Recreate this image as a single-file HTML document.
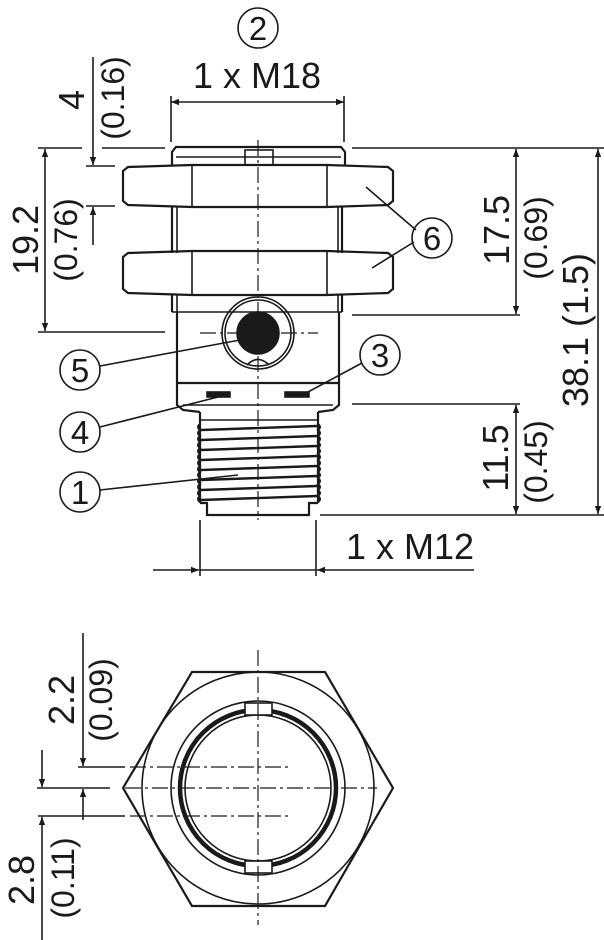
<!DOCTYPE html>
<html><head><meta charset="utf-8"><style>
html,body{margin:0;padding:0;background:#fff}
svg{display:block}
text{font-family:"Liberation Sans",sans-serif;fill:#1a1a1a}
</style></head><body>
<svg width="604" height="940" viewBox="0 0 604 940" xmlns="http://www.w3.org/2000/svg">
<defs>
<marker id="a" viewBox="0 0 10 10" refX="10" refY="5" markerWidth="14" markerHeight="8" markerUnits="userSpaceOnUse" orient="auto"><path d="M0,1 L10,5 L0,9 z" fill="#1a1a1a"/></marker>
</defs>
<g stroke="#1a1a1a" fill="none" stroke-width="1.6">
<line x1="38" y1="148" x2="82" y2="148"/><line x1="102" y1="148" x2="165" y2="148"/>
<line x1="352" y1="148" x2="604" y2="148"/>
<line x1="171" y1="96" x2="171" y2="142"/><line x1="344" y1="96" x2="344" y2="142"/>
<line x1="240" y1="102" x2="344" y2="102" marker-end="url(#a)"/>
<line x1="240" y1="102" x2="171" y2="102" marker-end="url(#a)"/>
<path d="M172,165 L172,152 L176,147 L341,147 L345,152 L345,165" stroke-width="2.2"/>
<line x1="176" y1="157" x2="341" y2="157"/>
<rect x="245" y="150" width="28" height="15"/>
<path d="M123,171 L128,167 L192,165 L327,165 L388,167 L393,171 L393,201 L388,205 L327,207 L192,207 L128,205 L123,201 Z" stroke-width="2.2"/>
<line x1="192" y1="165" x2="192" y2="207"/><line x1="327" y1="165" x2="327" y2="207"/>
<line x1="172" y1="207" x2="172" y2="253" stroke-width="2.2"/><line x1="177" y1="207" x2="177" y2="253"/>
<line x1="342" y1="207" x2="342" y2="253" stroke-width="2.2"/><line x1="338" y1="207" x2="338" y2="253"/>
<path d="M123,257 L128,253 L192,251 L327,251 L388,253 L393,257 L393,289 L388,293 L327,295 L192,295 L128,293 L123,289 Z" stroke-width="2.2"/>
<line x1="192" y1="251" x2="192" y2="295"/><line x1="327" y1="251" x2="327" y2="295"/>
<line x1="172" y1="295" x2="172" y2="312" stroke-width="2.2"/><line x1="177" y1="295" x2="177" y2="312"/>
<line x1="342" y1="295" x2="342" y2="312" stroke-width="2.2"/><line x1="338" y1="295" x2="338" y2="312"/>
<path d="M177,312 L177,405 L183,410 L200,412 M339,312 L339,405 L333,410 L318,412" stroke-width="2.2"/>
<line x1="172" y1="312" x2="342" y2="312"/>
<line x1="177" y1="383" x2="339" y2="383" stroke-width="2.2"/>
<line x1="183" y1="405" x2="333" y2="405"/>
<path d="M200,412 L200,503 M318,412 L318,503" stroke-width="2.2"/>
<path d="M200,424 q-4,3 0,6 q-4,3 0,6 q-4,3 0,6 q-4,3 0,6 q-4,3 0,6 q-4,3 0,6 q-4,3 0,6 q-4,3 0,6 q-4,3 0,6 q-4,3 0,6 q-4,3 0,6 q-4,3 0,6 q-4,3 0,6" stroke-width="2"/>
<path d="M318,424 q4,3 0,6 q4,3 0,6 q4,3 0,6 q4,3 0,6 q4,3 0,6 q4,3 0,6 q4,3 0,6 q4,3 0,6 q4,3 0,6 q4,3 0,6 q4,3 0,6 q4,3 0,6 q4,3 0,6" stroke-width="2"/>
<line x1="200" y1="420" x2="318" y2="420"/>
<g stroke-width="2.4">
<line x1="201" y1="430" x2="317" y2="426"/><line x1="201" y1="440" x2="317" y2="436"/>
<line x1="201" y1="450" x2="317" y2="446"/><line x1="201" y1="460" x2="317" y2="456"/>
<line x1="201" y1="470" x2="317" y2="466"/><line x1="201" y1="480" x2="317" y2="476"/>
<line x1="201" y1="490" x2="317" y2="486"/><line x1="201" y1="500" x2="317" y2="496"/>
</g>
<path d="M200,503 L207,503 L207,515 L309,515 L309,503 L318,503" stroke-width="2.2"/>
<circle cx="258" cy="333" r="36"/><circle cx="258" cy="333" r="33"/>
<circle cx="258" cy="333" r="21" fill="#1a1a1a"/>
<path d="M247,365 Q258,354 269,365" />
<rect x="207" y="392" width="23" height="5" fill="#1a1a1a"/>
<rect x="285" y="392" width="24" height="5" fill="#1a1a1a"/>
<line x1="258" y1="140" x2="258" y2="520" stroke-width="1.2" stroke-dasharray="16,4,3,4"/>
<line x1="200" y1="333" x2="318" y2="333" stroke-width="1.2" stroke-dasharray="16,4,3,4"/>
<line x1="93" y1="57" x2="93" y2="165" marker-end="url(#a)"/>
<line x1="93" y1="245" x2="93" y2="207" marker-end="url(#a)"/>
<line x1="86" y1="166" x2="115" y2="166"/><line x1="86" y1="206" x2="115" y2="206"/>
<line x1="45" y1="240" x2="45" y2="149" marker-end="url(#a)"/>
<line x1="45" y1="240" x2="45" y2="331" marker-end="url(#a)"/>
<line x1="38" y1="332" x2="165" y2="332"/>
<line x1="516" y1="230" x2="516" y2="149" marker-end="url(#a)"/>
<line x1="516" y1="230" x2="516" y2="314" marker-end="url(#a)"/>
<line x1="352" y1="315" x2="520" y2="315"/>
<line x1="598" y1="330" x2="598" y2="149" marker-end="url(#a)"/>
<line x1="598" y1="330" x2="598" y2="514" marker-end="url(#a)"/>
<line x1="352" y1="404" x2="520" y2="404"/>
<line x1="516" y1="460" x2="516" y2="405" marker-end="url(#a)"/>
<line x1="516" y1="460" x2="516" y2="514" marker-end="url(#a)"/>
<line x1="320" y1="515" x2="604" y2="515"/>
<line x1="200" y1="520" x2="200" y2="576"/><line x1="316" y1="520" x2="316" y2="576"/>
<line x1="153" y1="570" x2="199" y2="570" marker-end="url(#a)"/>
<line x1="474" y1="570" x2="317" y2="570" marker-end="url(#a)"/>
<line x1="200" y1="570" x2="316" y2="570"/>
<circle cx="258" cy="28" r="20"/>
<circle cx="432" cy="238" r="20"/>
<line x1="366" y1="187" x2="416" y2="230"/><line x1="372" y1="268" x2="414" y2="242"/>
<circle cx="80" cy="370" r="20"/><line x1="100" y1="366" x2="240" y2="340"/>
<circle cx="380" cy="355" r="20"/><line x1="362" y1="363" x2="308" y2="392"/>
<circle cx="80" cy="432" r="20"/><line x1="100" y1="427" x2="218" y2="397"/>
<circle cx="80" cy="492" r="20"/><line x1="100" y1="490" x2="238" y2="475"/>
<path d="M192,672 L325,672 L393,788 L325,906 L192,906 L123,788 Z" stroke-width="2.2"/>
<circle cx="258" cy="788" r="116"/>
<circle cx="258" cy="788" r="87"/>
<circle cx="258" cy="788" r="78" stroke-width="4.5"/>
<circle cx="258" cy="788" r="73"/>
<rect x="245" y="703" width="27" height="12" fill="#fff"/>
<rect x="245" y="861" width="27" height="12" fill="#fff"/>
<line x1="258" y1="650" x2="258" y2="925" stroke-width="1.2" stroke-dasharray="16,4,3,4"/>
<line x1="37" y1="788" x2="110" y2="788"/>
<line x1="125" y1="788" x2="377" y2="788" stroke-width="1.2" stroke-dasharray="16,4,3,4"/>
<line x1="78" y1="767" x2="125" y2="767"/>
<line x1="130" y1="767" x2="292" y2="767" stroke-width="1.2" stroke-dasharray="16,4,3,4"/>
<line x1="38" y1="816" x2="125" y2="816"/>
<line x1="130" y1="816" x2="292" y2="816" stroke-width="1.2" stroke-dasharray="16,4,3,4"/>
<line x1="83" y1="633" x2="83" y2="766" marker-end="url(#a)"/>
<line x1="83" y1="820" x2="83" y2="789" marker-end="url(#a)"/>
<line x1="42" y1="750" x2="42" y2="787" marker-end="url(#a)"/>
<line x1="42" y1="940" x2="42" y2="817" marker-end="url(#a)"/>
</g>
<g font-size="36">
<text x="258" y="40" text-anchor="middle" font-size="33">2</text>
<text x="432" y="250" text-anchor="middle" font-size="33">6</text>
<text x="80" y="382" text-anchor="middle" font-size="33">5</text>
<text x="380" y="367" text-anchor="middle" font-size="33">3</text>
<text x="80" y="444" text-anchor="middle" font-size="33">4</text>
<text x="80" y="504" text-anchor="middle" font-size="33">1</text>
<text x="257" y="88" text-anchor="middle">1 x M18</text>
<text x="410" y="559" text-anchor="middle">1 x M12</text>
<text transform="translate(84,100) rotate(-90)" text-anchor="middle">4</text>
<text transform="translate(124,98) rotate(-90)" text-anchor="middle" font-size="32">(0.16)</text>
<text transform="translate(38,240) rotate(-90)" text-anchor="middle">19.2</text>
<text transform="translate(77,240) rotate(-90)" text-anchor="middle" font-size="32">(0.76)</text>
<text transform="translate(509,230) rotate(-90)" text-anchor="middle">17.5</text>
<text transform="translate(547,238) rotate(-90)" text-anchor="middle" font-size="32">(0.69)</text>
<text transform="translate(588,330) rotate(-90)" text-anchor="middle">38.1 (1.5)</text>
<text transform="translate(508,458) rotate(-90)" text-anchor="middle">11.5</text>
<text transform="translate(547,462) rotate(-90)" text-anchor="middle" font-size="32">(0.45)</text>
<text transform="translate(74,700) rotate(-90)" text-anchor="middle">2.2</text>
<text transform="translate(112,700) rotate(-90)" text-anchor="middle" font-size="32">(0.09)</text>
<text transform="translate(34,880) rotate(-90)" text-anchor="middle">2.8</text>
<text transform="translate(74,878) rotate(-90)" text-anchor="middle" font-size="32">(0.11)</text>
</g>
</svg>
</body></html>
